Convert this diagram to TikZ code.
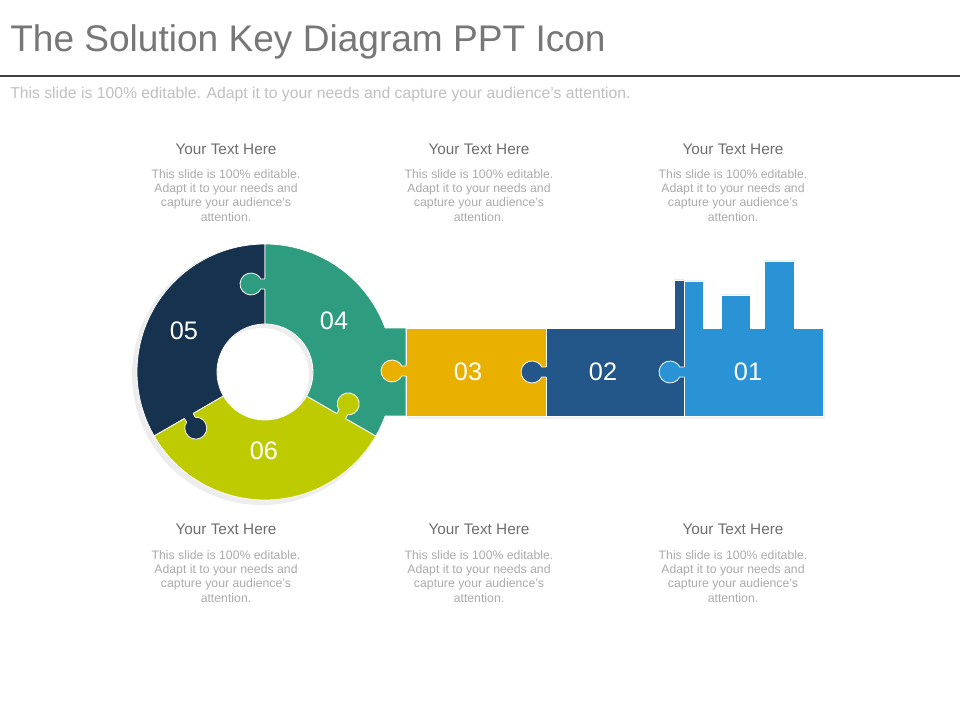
\documentclass[tikz,border=0pt]{standalone}
\usepackage{fontspec}
\setmainfont{Liberation Sans}
\definecolor{cA}{HTML}{2A93D5}
\definecolor{cB}{HTML}{235789}
\definecolor{cC}{HTML}{E9B000}
\definecolor{cD}{HTML}{2E9C7E}
\definecolor{cE}{HTML}{16324F}
\definecolor{cF}{HTML}{BECB00}
\definecolor{titlegray}{HTML}{777777}
\definecolor{rulegray}{HTML}{404040}
\definecolor{subgray}{HTML}{C0C0C0}
\definecolor{headgray}{HTML}{6E6E6E}
\definecolor{bodygray}{HTML}{ABABAB}
\newcommand\puzknob[4]{%
  \begin{scope}[shift={(#2,#3)}, rotate=#4]
    \fill[#1] (-2,-5) -- (4.2,-5) arc[start angle=207.04, end angle=512.96, radius=11] -- (-2,5) -- cycle;
    \draw[knobline] (0,-5) -- (4.2,-5) arc[start angle=207.04, end angle=512.96, radius=11] -- (0,5);
  \end{scope}}
\begin{document}
\begin{tikzpicture}[x=0.75pt,y=-0.75pt,
  piece/.style={draw=white, line width=0.6pt, line join=round},
  knobline/.style={draw=white, line width=0.6pt},
  num/.style={text=white, font=\fontsize{19}{19}\selectfont, inner sep=0},
  head/.style={text=headgray, font=\fontsize{11.5}{13}\selectfont, inner sep=0},
  body/.style={text=bodygray, font=\fontsize{9.2}{10.8}\selectfont, align=center, inner sep=0, anchor=north}]
\useasboundingbox (0,0) rectangle (960,720);
\fill[white] (0,0) rectangle (960,720);
% title
\node[anchor=base west, inner sep=0, text=titlegray, font=\fontsize{27.8}{30}\selectfont] (title) at (10,52) {The Solution Key Diagram PPT Icon};
\coordinate (rl) at (0,76);
\coordinate (rr) at (960,76);
\draw[rulegray, line width=2.2pt] (rl) -- (rr);
\node[anchor=base west, inner sep=0, text=subgray, font=\fontsize{11.8}{13}\selectfont] (sub) at (10,99) {This slide is 100\% editable. Adapt it to your needs and capture your audience's attention.};
% shadows
\fill[black, opacity=0.07, even odd rule] (262,375) circle[radius=130] (262,375) circle[radius=47];
\fill[black, opacity=0.06] (408,330) rectangle (825,419);
% ring pieces
\coordinate (C) at (265,372);
\filldraw[piece, fill=cE] ([shift={(265,372)}]-90:128) arc[start angle=-90, end angle=-210, radius=128]
  -- ([shift={(265,372)}]-210:48) arc[start angle=-210, end angle=-90, radius=48] -- cycle;
\filldraw[piece, fill=cF] ([shift={(265,372)}]-210:128) arc[start angle=-210, end angle=-330, radius=128]
  -- ([shift={(265,372)}]-330:48) arc[start angle=-330, end angle=-210, radius=48] -- cycle;
\filldraw[piece, fill=cD] ([shift={(265,372)}]30:128) arc[start angle=30, end angle=20.1, radius=128]
  -- (406,416) -- (406,328) -- ([shift={(265,372)}]-20.1:128) arc[start angle=-20.1, end angle=-90, radius=128]
  -- ([shift={(265,372)}]-90:48) arc[start angle=-90, end angle=30, radius=48] -- cycle;
% key bar pieces
\filldraw[piece, fill=cC] (406,328) rectangle (546,416);
\filldraw[piece, fill=cB] (546,328) -- (674,328) -- (674,280) -- (684,280) -- (684,416) -- (546,416) -- cycle;
\filldraw[piece, fill=cA] (684,416) -- (684,281) -- (703,281) -- (703,328) -- (721,328) -- (721,295) -- (750,295)
  -- (750,328) -- (764,328) -- (764,261) -- (794,261) -- (794,328) -- (823,328) -- (823,416) -- cycle;
% knobs
\puzknob{cD}{265}{284}{180}
\puzknob{cE}{188.79}{416}{300}
\puzknob{cF}{341.21}{416}{60}
\puzknob{cC}{406}{371}{180}
\puzknob{cB}{546}{372}{180}
\puzknob{cA}{684}{372}{180}
% numbers
\node[num] (n05) at (184,331) {05};
\node[num] (n04) at (334,321) {04};
\node[num] (n06) at (264,451) {06};
\node[num] (n03) at (468,372) {03};
\node[num] (n02) at (603,372) {02};
\node[num] (n01) at (748,372) {01};
% text blocks
\foreach \i/\x in {1/226, 2/479, 3/733} {
  \node[head] (ht\i) at (\x,149) {Your Text Here};
  \node[body] (bt\i) at (\x,169) {This slide is 100\% editable.\\Adapt it to your needs and\\capture your audience's\\attention.};
  \node[head] (hb\i) at (\x,529) {Your Text Here};
  \node[body] (bb\i) at (\x,550) {This slide is 100\% editable.\\Adapt it to your needs and\\capture your audience's\\attention.};
}
\end{tikzpicture}
\end{document}
